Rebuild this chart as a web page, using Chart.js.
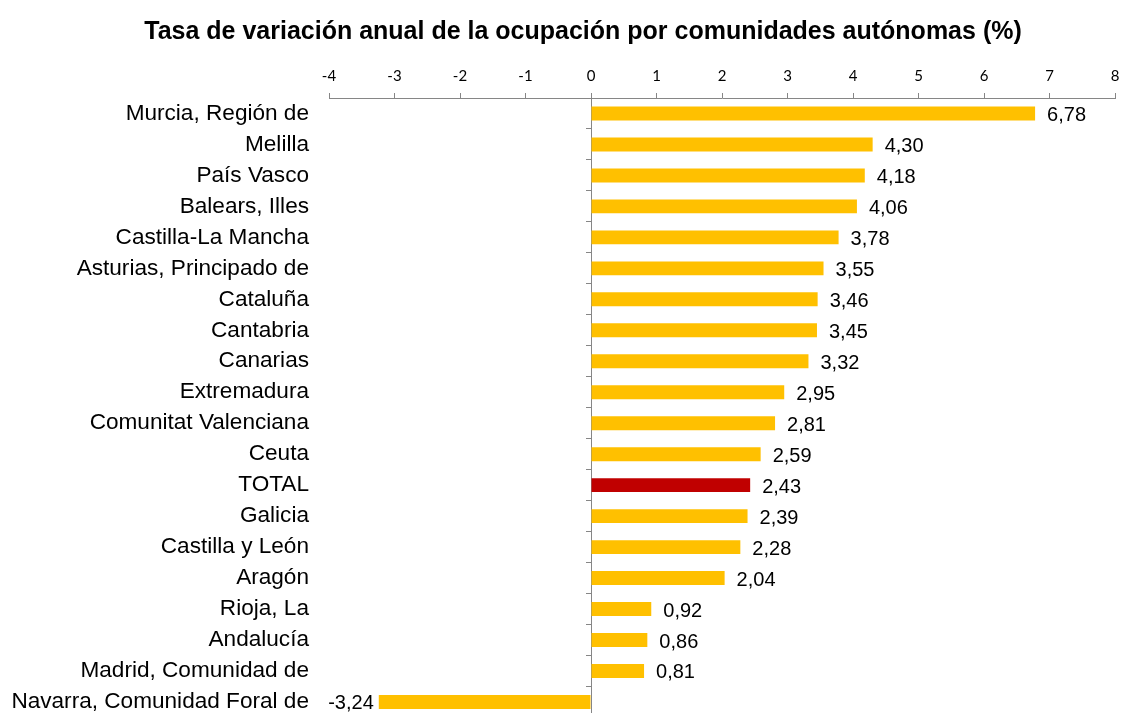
<!DOCTYPE html>
<html>
<head>
<meta charset="utf-8">
<script src="https://cdn.jsdelivr.net/npm/chart.js@4"></script>
<style>
  html, body { margin: 0; padding: 0; background: #fff; overflow: hidden; }
  #wrap { width: 1121px; height: 731px; }
</style>
</head>
<body>
<div id="wrap"><canvas id="chart"></canvas></div>
<script>
// Data
const regions = ['Murcia, Región de', 'Melilla', 'País Vasco', 'Balears, Illes', 'Castilla-La Mancha',
    'Asturias, Principado de', 'Cataluña', 'Cantabria', 'Canarias', 'Extremadura',
    'Comunitat Valenciana', 'Ceuta', 'TOTAL', 'Galicia', 'Castilla y León', 'Aragón',
    'Rioja, La', 'Andalucía', 'Madrid, Comunidad de', 'Navarra, Comunidad Foral de'];
const variation = [6.78, 4.30, 4.18, 4.06, 3.78, 3.55, 3.46, 3.45, 3.32, 2.95,
    2.81, 2.59, 2.43, 2.39, 2.28, 2.04, 0.92, 0.86, 0.81, -3.24];
const xTicks = [-4, -3, -2, -1, 0, 1, 2, 3, 4, 5, 6, 7, 8];
const chartTitle = 'Tasa de variación anual de la ocupación por comunidades autónomas (%)';

const barColors = regions.map(r => r === 'TOTAL' ? '#C00000' : '#FFC000');

// value labels next to each bar
const valueLabels = {
    id: 'valueLabels',
    afterDatasetsDraw(chart) {
        const ctx = chart.ctx;
        const meta = chart.getDatasetMeta(0);
        ctx.save();
        ctx.font = '20px "Liberation Sans", Arial, sans-serif';
        ctx.fillStyle = '#000';
        ctx.textBaseline = 'middle';
        meta.data.forEach((bar, i) => {
            const v = variation[i];
            const txt = v.toFixed(2).replace('.', ',');
            if (v >= 0) {
                ctx.textAlign = 'left';
                ctx.fillText(txt, bar.x + 12, bar.y + 2);
            } else {
                ctx.textAlign = 'right';
                ctx.fillText(txt, bar.x - 5, bar.y + 2);
            }
        });
        ctx.restore();
    }
};

// title is drawn by hand so it can sit a bit right of the canvas centre
const titlePlugin = {
    id: 'titlePlugin',
    afterDraw(chart) {
        const ctx = chart.ctx;
        ctx.save();
        ctx.font = 'bold 25px "Liberation Sans", Arial, sans-serif';
        ctx.fillStyle = '#000';
        ctx.textAlign = 'center';
        ctx.textBaseline = 'middle';
        ctx.fillText(chartTitle, 583, 32);
        ctx.restore();
    }
};

const ctx = document.getElementById('chart').getContext('2d');
const chart = new Chart(ctx, {
    type: 'bar',
    data: {
        labels: regions,
        datasets: [{
            data: variation,
            backgroundColor: barColors,
            borderWidth: 0,
            barPercentage: 0.45,
            categoryPercentage: 1
        }]
    },
    options: {
        indexAxis: 'y',
        responsive: true,
        maintainAspectRatio: false,
        animation: false,
        layout: { padding: { left: 0, right: 6, top: 59, bottom: 0 } },
        plugins: {
            legend: { display: false },
            tooltip: { enabled: false },
            title: { display: false }
        },
        scales: {
            x: {
                position: 'top',
                min: -4,
                max: 8,
                afterBuildTicks(scale) {
                    scale.ticks = xTicks.map(v => ({ value: v }));
                },
                afterFit(scale) {
                    scale.paddingLeft = 0;
                    scale.paddingRight = 0;
                },
                ticks: {
                    color: '#000',
                    padding: 8,
                    font: { family: 'Lato, "Liberation Sans", sans-serif', size: 15 }
                },
                grid: { drawOnChartArea: false, color: '#868686', tickLength: 5 },
                border: { color: '#868686', width: 1 }
            },
            y: {
                ticks: {
                    color: '#000',
                    padding: 0,
                    font: { family: '"Liberation Sans", Arial, sans-serif', size: 22.6 }
                },
                grid: { display: false, tickLength: 20 },
                border: { display: false },
                afterFit(scale) { scale.width = 329; }
            },
            y2: {
                type: 'category',
                axis: 'y',
                position: { x: 0 },
                offset: true,
                ticks: { display: false },
                grid: { offset: true, drawOnChartArea: false, color: '#868686', tickLength: 5 },
                border: { color: '#868686', width: 1 }
            }
        }
    },
    plugins: [valueLabels, titlePlugin]
});
</script>
</body>
</html>
